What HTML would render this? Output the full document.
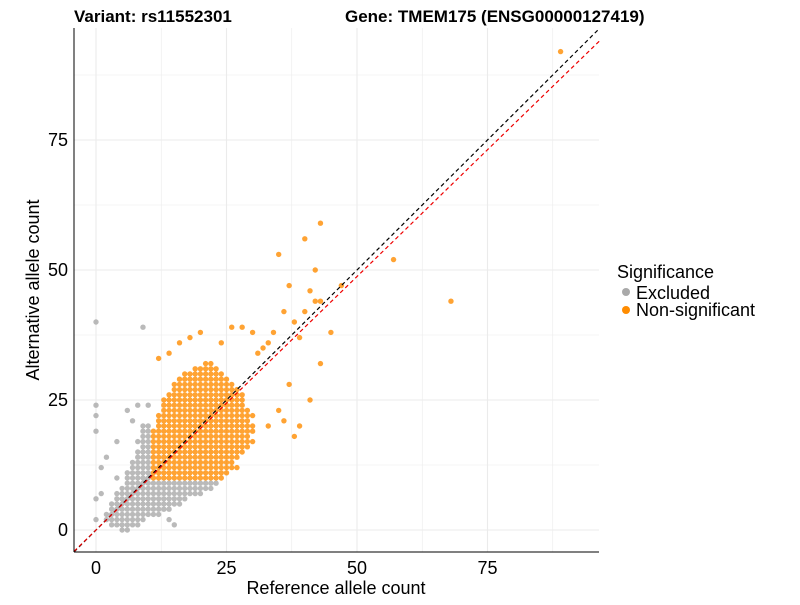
<!DOCTYPE html>
<html><head><meta charset="utf-8"><style>
body{margin:0;background:#fff;font-family:"Liberation Sans",sans-serif}
</style></head><body>
<svg id="chart" width="800" height="600" xmlns="http://www.w3.org/2000/svg" font-family="Liberation Sans, sans-serif">
<text x="74" y="22" font-size="17" font-weight="bold">Variant: rs11552301</text>
<text x="345" y="22" font-size="17" font-weight="bold">Gene: TMEM175 (ENSG00000127419)</text>
<g id="grid"></g><g id="pts"></g><g id="lines"></g><g id="axes"></g>
<text x="336" y="594" font-size="18" text-anchor="middle">Reference allele count</text>
<text transform="translate(39,290) rotate(-90)" font-size="18" text-anchor="middle">Alternative allele count</text>
<g>
<text x="617" y="278" font-size="18">Significance</text>
<circle cx="626" cy="292" r="4" fill="#a9a9a9"/>
<text x="636" y="299" font-size="18">Excluded</text>
<circle cx="626" cy="310" r="4" fill="#ff8c00"/>
<text x="636" y="316" font-size="18">Non-significant</text>
</g>
</svg>
<script>
// runs: [y, xStart, xEnd]
const orangeRuns=[[10,11,24],[11,11,25],[12,11,27],[13,11,26],[14,11,27],[15,11,28],[16,11,29],[17,11,30],[18,11,29],[19,11,30],[20,12,30],[21,12,29],[22,12,30],[23,13,29],[24,13,28],[25,13,28],[26,14,28],[27,15,27],[28,15,26],[29,16,25],[30,17,24],[31,19,23],[32,21,22]];
const greyRuns=[[0,5,6],[1,3,8],[2,2,9],[3,2,12],[4,3,14],[5,3,16],[6,4,17],[7,4,20],[8,5,22],[9,6,23],[10,6,10],[11,6,10],[12,7,10],[13,7,10],[14,8,10],[15,8,10],[16,9,10],[17,8,10],[18,9,10],[19,9,10],[20,9,10]];
const orangeX=[89,57,68,47,43,40,35,42,41,37,43,42,40,38,36,39,43,41,39,38,45,33,34,32,31,30,28,26,24,20,18,14,12,16,35,33,37,36];
const orangeY=[92,52,44,47,59,56,53,50,46,47,44,44,42,40,42,37,32,25,20,18,38,36,38,35,34,38,39,39,36,38,37,34,33,36,23,20,28,21];
const greyX=[0,9,0,0,0,1,0,0,2,4,1,8,10,6,14,15,4,7];
const greyY=[40,39,24,22,19,12,6,2,14,17,7,24,24,23,2,1,10,21];
const xTicks=[0,25,50,75], yTicks=[0,25,50,75];
const X0=96,XS=5.22,Y0=530,YS=5.2;
const sx=v=>X0+v*XS, sy=v=>Y0-v*YS;
const NS="http://www.w3.org/2000/svg";
function mk(t,a,p){const e=document.createElementNS(NS,t);for(const k in a)e.setAttribute(k,a[k]);p.appendChild(e);return e;}
const grid=document.getElementById('grid');
for(let v=-12.5;v<=100;v+=12.5){
 if(sx(v)>74&&sx(v)<599){const l=mk('line',{x1:sx(v),x2:sx(v),y1:28,y2:552,stroke:'#ebebeb','stroke-width':v%25===0?1.1:0.6},grid);
 
 }
 if(sy(v)>28&&sy(v)<552){const l=mk('line',{x1:74,x2:599,y1:sy(v),y2:sy(v),stroke:'#ebebeb','stroke-width':v%25===0?1.1:0.6},grid);
 
 }
}
const pts=document.getElementById('pts');
function dot(x,y,c,n){const e=mk('circle',{cx:sx(x),cy:sy(y),r:2.7,fill:c,'fill-opacity':0.8},pts);
 
 }
greyRuns.forEach(([y,a,b])=>{for(let x=a;x<=b;x++)dot(x,y,'#a9a9a9','point-excluded');});
greyX.forEach((x,i)=>dot(x,greyY[i],'#a9a9a9','point-excluded'));
orangeRuns.forEach(([y,a,b])=>{for(let x=a;x<=b;x++)dot(x,y,'#ff8c00','point-non-significant');});
orangeX.forEach((x,i)=>dot(x,orangeY[i],'#ff8c00','point-non-significant'));
const lines=document.getElementById('lines');
const lo=-4.2,hi=96.4;
const idl=mk('line',{x1:sx(lo),y1:sy(lo),x2:sx(hi),y2:sy(hi),stroke:'#000','stroke-width':1.2,'stroke-dasharray':'4,3'},lines);


const slope=0.975;
const rl=mk('line',{x1:sx(lo),y1:sy(lo*slope),x2:sx(hi),y2:sy(hi*slope),stroke:'#e00','stroke-width':1.2,'stroke-dasharray':'4,3'},lines);


const ax=document.getElementById('axes');
const xa=mk('line',{x1:74,x2:599,y1:552,y2:552,stroke:'#000','stroke-width':1},ax);


const ya=mk('line',{x1:74,x2:74,y1:28,y2:552,stroke:'#000','stroke-width':1},ax);


xTicks.forEach(v=>{const t=mk('text',{x:sx(v),y:574,'font-size':18,'text-anchor':'middle',fill:'#000'},ax);t.textContent=v;
 
 });
yTicks.forEach(v=>{const t=mk('text',{x:68,y:sy(v)+6,'font-size':18,'text-anchor':'end',fill:'#000'},ax);t.textContent=v;
 
 });
</script>
</body></html>
